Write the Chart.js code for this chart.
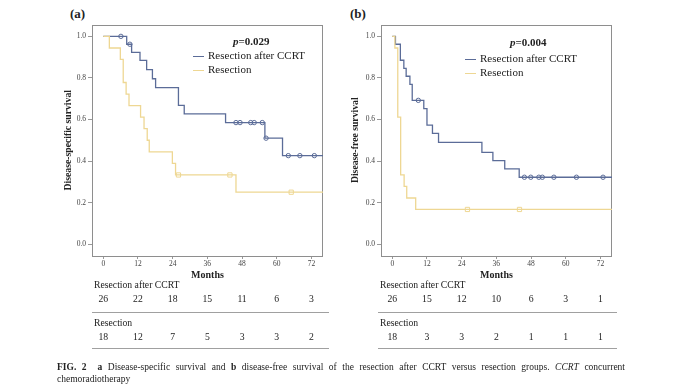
<!DOCTYPE html>
<html>
<head>
<meta charset="utf-8">
<script src="https://cdn.jsdelivr.net/npm/chart.js@4.4.0/dist/chart.umd.min.js"></script>
<style>
  body { margin: 0; width: 680px; height: 389px; background: #fff; position: relative; overflow: hidden;
         font-family: "Liberation Serif", "Times New Roman", serif; color: #222; }
  .abs { position: absolute; white-space: nowrap; line-height: 1; }
  .panel { position: absolute; }
  .lab { font-weight: bold; font-size: 13px; }
  .pval { font-weight: bold; font-size: 11px; }
  .leg { font-size: 11px; }
  .leg span.sw { display: inline-block; width: 11px; height: 0; border-top: 1.3px solid; vertical-align: middle; margin-right: 4px; }
  .risk { font-size: 9.7px; }
  .num { font-size: 9.7px; transform: translateX(-50%); }
  .rule { position: absolute; height: 0; border-top: 1.5px solid #a0a0a0; }
  #caption { position: absolute; left: 57px; top: 361px; width: 568px; font-size: 9.5px; line-height: 12.3px; text-align: justify; }
</style>
</head>
<body>
<div class="abs lab" style="left:70px; top:7px;">(a)</div>
<div class="abs lab" style="left:350px; top:7px;">(b)</div>

<div class="panel" style="left:55px; top:18px; width:280px; height:265px;"><canvas id="chartA"></canvas></div>
<div class="panel" style="left:340px; top:18px; width:285px; height:265px;"><canvas id="chartB"></canvas></div>

<div class="abs pval" style="left:233px; top:36px;"><i>p</i>=0.029</div>
<div class="abs leg" style="left:193px; top:50px;"><span class="sw" style="border-color:#5b6c98"></span>Resection after CCRT</div>
<div class="abs leg" style="left:193px; top:64px;"><span class="sw" style="border-color:#eed793"></span>Resection</div>

<div class="abs pval" style="left:510px; top:37px;"><i>p</i>=0.004</div>
<div class="abs leg" style="left:465px; top:53px;"><span class="sw" style="border-color:#5b6c98"></span>Resection after CCRT</div>
<div class="abs leg" style="left:465px; top:67px;"><span class="sw" style="border-color:#eed793"></span>Resection</div>

<div id="riskTables"></div>

<div id="caption"><b>FIG. 2</b>&nbsp; <b>a</b> Disease-specific survival and <b>b</b> disease-free survival of the resection after CCRT versus resection groups. <i>CCRT</i> concurrent chemoradiotherapy</div>

<script>
// Kaplan-Meier curves
const monthTicks = [0, 12, 24, 36, 48, 60, 72];
const survTicks = [0, 0.2, 0.4, 0.6, 0.8, 1.0];

// (a) disease-specific survival
const dssCcrtTimes = [0, 8.1, 9.8, 12.7, 15, 17, 18.1, 26, 28, 42.3, 55.9, 62, 76];
const dssCcrtSurv  = [1, 0.962, 0.923, 0.884, 0.84, 0.796, 0.753, 0.668, 0.627, 0.585, 0.51, 0.426, 0.426];
const dssCcrtCensored = [6.1, 9.2, 45.9, 47.3, 51, 52.2, 55, 56.3, 64, 68, 73];
const dssResTimes = [0, 2.1, 5.9, 6.9, 7.9, 8.9, 12.9, 14.1, 15.2, 15.9, 23.9, 25, 45.9, 76];
const dssResSurv  = [1, 0.944, 0.889, 0.778, 0.722, 0.667, 0.611, 0.556, 0.5, 0.444, 0.389, 0.333, 0.25, 0.25];
const dssResCensored = [26, 43.8, 65];

// (b) disease-free survival
const dfsCcrtTimes = [0, 1.1, 2.8, 4.0, 4.8, 6.1, 6.9, 10.9, 12, 13.9, 16, 31, 34.8, 38.9, 43.9, 76];
const dfsCcrtSurv  = [1, 0.962, 0.885, 0.846, 0.808, 0.769, 0.692, 0.652, 0.573, 0.533, 0.49, 0.442, 0.402, 0.362, 0.322, 0.322];
const dfsCcrtCensored = [9.0, 45.7, 47.9, 50.7, 51.9, 55.9, 63.7, 72.9];
const dfsResTimes = [0, 0.9, 1.9, 2.9, 4.1, 5.0, 8.1, 76];
const dfsResSurv  = [1, 0.944, 0.611, 0.333, 0.278, 0.222, 0.167, 0.167];
const dfsResCensored = [26, 44];

// numbers at risk
const riskA_ccrt = [26, 22, 18, 15, 11, 6, 3];
const riskA_res  = [18, 12, 7, 5, 3, 3, 2];
const riskB_ccrt = [26, 15, 12, 10, 6, 3, 1];
const riskB_res  = [18, 3, 3, 2, 1, 1, 1];

const BLUE = '#5b6c98';
const YELLOW = '#eed793';
const SERIF = '"Liberation Serif", "Times New Roman", serif';

// survival value of a step curve at time t
function survAt(times, surv, t) {
  let s = surv[0];
  for (let i = 0; i < times.length; i++) {
    if (times[i] <= t) s = surv[i];
  }
  return s;
}

const boxPlugin = {
  id: 'box',
  beforeDatasetsDraw(chart) {
    const a = chart.chartArea, c = chart.ctx;
    c.save();
    c.strokeStyle = '#8e8e8e';
    c.lineWidth = 1;
    c.strokeRect(Math.round(a.left) + 0.5, Math.round(a.top) + 0.5, Math.round(a.right - a.left) - 1, Math.round(a.bottom - a.top) - 1);
    c.restore();
  }
};

function makePanel(id, opts) {
  const pts = (t, s) => t.map((x, i) => ({ x: x, y: s[i] }));
  const cens = (c, t, s) => c.map(x => ({ x: x, y: survAt(t, s, x) }));
  return new Chart(document.getElementById(id), {
    type: 'line',
    data: {
      datasets: [
        { label: 'Resection', data: pts(opts.resT, opts.resS), borderColor: YELLOW, borderWidth: 1.3,
          stepped: 'before', pointRadius: 0, fill: false, order: 1 },
        { label: 'Resection censored', data: cens(opts.resC, opts.resT, opts.resS), showLine: false,
          pointStyle: 'rect', pointRadius: 3, borderColor: YELLOW, backgroundColor: 'rgba(255,255,255,0)', borderWidth: 1, order: 0 },
        { label: 'Resection after CCRT', data: pts(opts.ccrtT, opts.ccrtS), borderColor: BLUE, borderWidth: 1.3,
          stepped: 'before', pointRadius: 0, fill: false, order: 3 },
        { label: 'Resection after CCRT censored', data: cens(opts.ccrtC, opts.ccrtT, opts.ccrtS), showLine: false,
          pointStyle: 'circle', pointRadius: 2.2, borderColor: BLUE, backgroundColor: 'rgba(255,255,255,0)', borderWidth: 1, order: 2 }
      ]
    },
    options: {
      responsive: true,
      maintainAspectRatio: false,
      animation: false,
      layout: { padding: { left: 0, top: 5, right: opts.padRight, bottom: 0 } },
      plugins: { legend: { display: false }, tooltip: { enabled: false } },
      scales: {
        x: {
          type: 'linear', min: -3.9, max: 76,
          afterBuildTicks: axis => { axis.ticks = monthTicks.map(v => ({ value: v })); },
          afterFit: axis => { axis.height = 27; },
          ticks: { font: { family: SERIF, size: 7.5 }, color: '#444', padding: 1, maxRotation: 0 },
          grid: { drawOnChartArea: false, drawTicks: true, tickLength: 3, color: '#999' },
          border: { display: false },
          title: { display: true, text: 'Months', color: '#222', font: { family: SERIF, size: 10, weight: 'bold' }, padding: { top: 0, bottom: 2 } }
        },
        y: {
          min: -0.057, max: 1.057,
          afterBuildTicks: axis => { axis.ticks = survTicks.map(v => ({ value: v })); },
          afterFit: axis => { axis.width = opts.yWidth; },
          ticks: { font: { family: SERIF, size: 7.5 }, color: '#444', padding: 2, callback: v => v.toFixed(1) },
          grid: { drawOnChartArea: false, drawTicks: true, tickLength: 4, color: '#999' },
          border: { display: false },
          title: { display: true, text: opts.yTitle, color: '#222', font: { family: SERIF, size: 9.7, weight: 'bold' }, padding: { top: opts.titlePad, bottom: 0 } }
        }
      }
    },
    plugins: [boxPlugin]
  });
}

const chartA = makePanel('chartA', {
  ccrtT: dssCcrtTimes, ccrtS: dssCcrtSurv, ccrtC: dssCcrtCensored,
  resT: dssResTimes, resS: dssResSurv, resC: dssResCensored,
  yTitle: 'Disease-specific survival', yWidth: 37, padRight: 12, titlePad: 7.5
});
const chartB = makePanel('chartB', {
  ccrtT: dfsCcrtTimes, ccrtS: dfsCcrtSurv, ccrtC: dfsCcrtCensored,
  resT: dfsResTimes, resS: dfsResSurv, resC: dfsResCensored,
  yTitle: 'Disease-free survival', yWidth: 41, padRight: 13, titlePad: 9.5
});

// Risk tables under each panel, numbers aligned with the month ticks
function riskTable(chart, offsetLeft, ccrt, res, left, right) {
  const host = document.getElementById('riskTables');
  let html = '';
  html += `<div class="abs risk" style="left:${left + 2}px; top:280px;">Resection after CCRT</div>`;
  html += `<div class="abs risk" style="left:${left + 2}px; top:318px;">Resection</div>`;
  monthTicks.forEach((t, i) => {
    const x = offsetLeft + chart.scales.x.getPixelForValue(t);
    html += `<div class="abs num" style="left:${x}px; top:294px;">${ccrt[i]}</div>`;
    html += `<div class="abs num" style="left:${x}px; top:332px;">${res[i]}</div>`;
  });
  html += `<div class="rule" style="left:${left}px; width:${right - left}px; top:312px;"></div>`;
  html += `<div class="rule" style="left:${left}px; width:${right - left}px; top:348px;"></div>`;
  host.innerHTML += html;
}
riskTable(chartA, 55, riskA_ccrt, riskA_res, 92, 329);
riskTable(chartB, 340, riskB_ccrt, riskB_res, 378, 617);
</script>
</body>
</html>
